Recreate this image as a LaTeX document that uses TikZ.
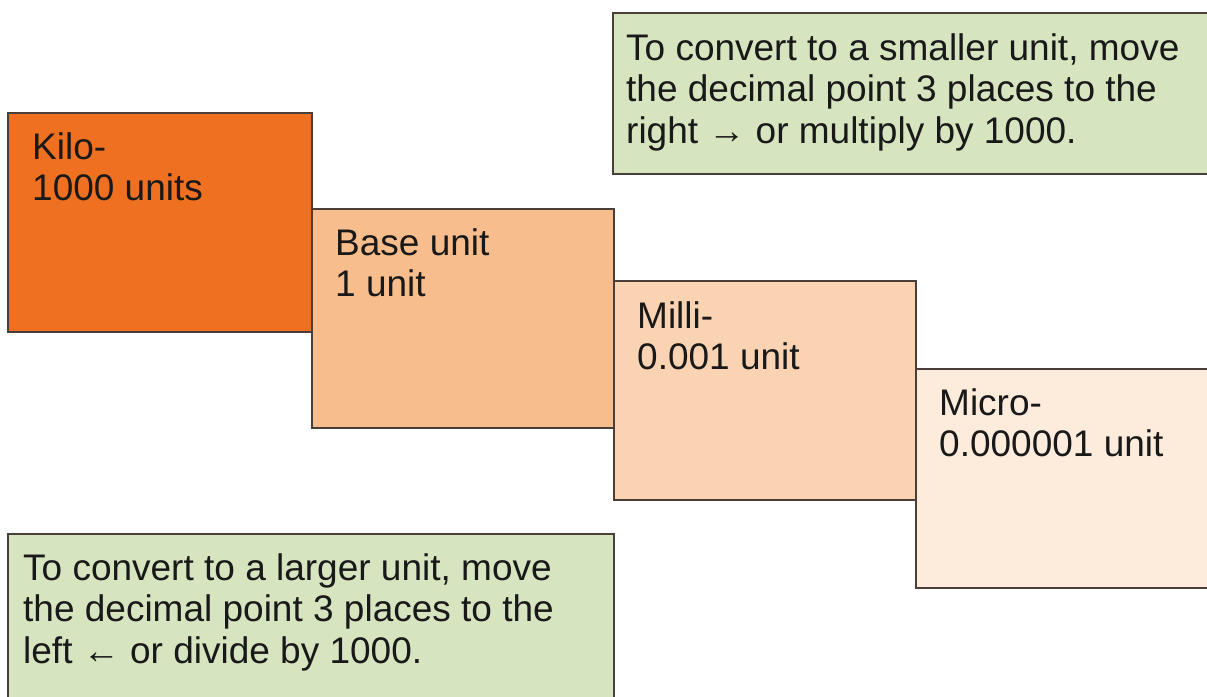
\documentclass[tikz,border=0pt]{standalone}
\usepackage{fontspec}
\setmainfont{Liberation Sans}
\usepackage{tikz}
\usetikzlibrary{positioning}

\definecolor{kilocol}{HTML}{F07022}
\definecolor{basecol}{HTML}{F8BD8C}
\definecolor{millicol}{HTML}{FAD3B2}
\definecolor{microcol}{HTML}{FDEBDC}
\definecolor{notecol}{HTML}{D6E4BF}
\definecolor{edgecol}{HTML}{4A3F38}

\begin{document}
\begin{tikzpicture}[x=1pt, y=1pt,
        unitbox/.style={draw=edgecol, line width=1.5pt, anchor=north west, inner sep=0, minimum width=302, minimum height=219},
        notebox/.style={draw=edgecol, line width=1.5pt, fill=notecol, anchor=north west, inner sep=0},
        boxtext/.style={anchor=north west, inner sep=0, align=left, text=black!90, font=\fontsize{37}{41.5}\selectfont}]
        \clip (0, 0) rectangle (1207, -696);
        % the four unit steps
        \node(kilo) [unitbox, fill=kilocol, minimum width=304] at (7, -112) {};
        \node(base) [unitbox, fill=basecol] at (311, -208) {};
        \node(milli) [unitbox, fill=millicol] at (613, -280) {};
        \node(micro) [unitbox, fill=microcol, minimum width=310] at (915, -368) {};
        \node(kilotext) [boxtext, below right=20pt and 25pt of kilo.north west] {Kilo-\\1000 units};
        \node(basetext) [boxtext, below right=20pt and 24pt of base.north west] {Base unit\\1 unit};
        \node(millitext) [boxtext, below right=21pt and 24pt of milli.north west] {Milli-\\0.001 unit};
        \node(microtext) [boxtext, below right=20pt and 24pt of micro.north west] {Micro-\\0.000001 unit};
        % the two notes
        \node(smaller) [notebox, minimum width=610, minimum height=161] at (612, -12) {};
        \node(larger) [notebox, minimum width=606, minimum height=180] at (7, -533) {};
        \node(smallertext) [boxtext, below right=21pt and 14pt of smaller.north west] {To convert to a smaller unit, move\\the decimal point 3 places to the\\right → or multiply by 1000.};
        \node(largertext) [boxtext, below right=20pt and 16pt of larger.north west] {To convert to a larger unit, move\\the decimal point 3 places to the\\left ← or divide by 1000.};
    \end{tikzpicture}
\end{document}
